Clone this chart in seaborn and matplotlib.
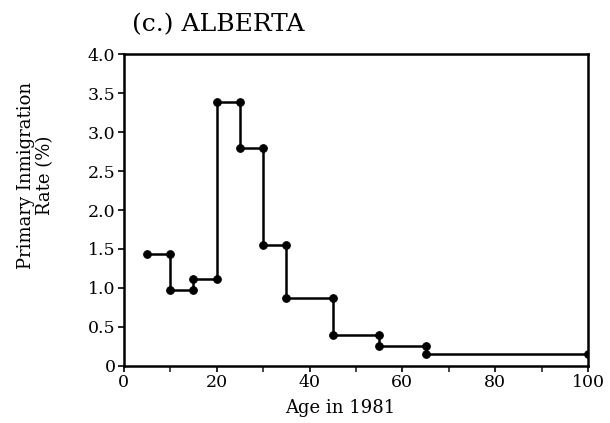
import matplotlib
matplotlib.use("Agg")
import matplotlib.pyplot as plt
import seaborn as sns
import pandas as pd
import numpy as np

# Age group boundaries and primary immigration rates (%)
age_start = [5, 10, 15, 20, 25, 30, 35, 45, 55, 65]
age_end = [10, 15, 20, 25, 30, 35, 45, 55, 65, 100]
rates = [1.43, 0.98, 1.12, 3.38, 2.80, 1.55, 0.87, 0.40, 0.25, 0.15]

xs, ys = [], []
for a, b, r in zip(age_start, age_end, rates):
    xs += [a, b]
    ys += [r, r]
df = pd.DataFrame({"age": xs, "rate": ys})

sns.set_theme(style="ticks")
plt.rcParams["font.family"] = ["DejaVu Serif", "Liberation Serif"]
plt.rcParams["text.color"] = "black"
plt.rcParams["axes.labelcolor"] = "black"

fig = plt.figure(figsize=(6.1, 4.23), dpi=100)
ax = fig.add_axes([0.203, 0.135, 0.761, 0.737])

sns.lineplot(data=df, x="age", y="rate", sort=False, ax=ax, color="black",
             linewidth=1.8, marker="o", markersize=5.5, markeredgecolor="black",
             estimator=None)

ax.set_xlim(0, 100)
ax.set_ylim(0, 4.0)
ax.set_xticks([0, 20, 40, 60, 80, 100])
ax.set_xticks(np.arange(10, 100, 20), minor=True)
ax.set_yticks([0, 0.5, 1.0, 1.5, 2.0, 2.5, 3.0, 3.5, 4.0])
ax.set_yticklabels(["0", "0.5", "1.0", "1.5", "2.0", "2.5", "3.0", "3.5", "4.0"])
ax.tick_params(axis="both", labelsize=12.5, colors="black", width=1.2, length=4, pad=2)
ax.tick_params(axis="x", which="minor", length=4, width=1.2)
for s in ax.spines.values():
    s.set_visible(True)
    s.set_color("black")
    s.set_linewidth(1.8)

ax.set_xlabel("Age in 1981", fontsize=13, va="top", color="black")
ax.xaxis.set_label_coords(0.466, -0.105)
ax.set_ylabel("Primary Inmigration\nRate (%)", fontsize=13, linespacing=1.1, color="black")
ax.yaxis.set_label_coords(-0.15, 0.61)
ax.text(0.017, 1.058, "(c.) ALBERTA", transform=ax.transAxes, fontsize=18,
        ha="left", va="bottom", color="black")

fig.savefig("out.png", dpi=100, facecolor="white")
